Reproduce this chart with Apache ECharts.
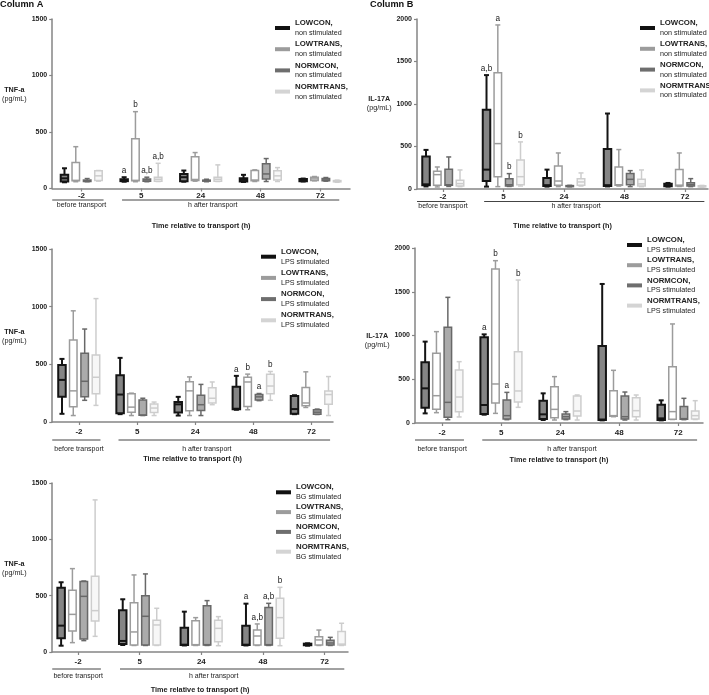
<!DOCTYPE html>
<html><head><meta charset="utf-8">
<script src="https://cdn.jsdelivr.net/npm/echarts@6/dist/echarts.min.js"></script>
<style>html,body{margin:0;padding:0;background:#fff}#c{width:709px;height:695px}</style>
</head><body><div id="c"></div>
<script>
// ---------- DATA ----------
const timeLabels = ['-2', '5', '24', '48', '72'];
const groupNames = ['LOWCON', 'LOWTRANS', 'NORMCON', 'NORMTRANS'];
// each box: [min, q1, median, q3, max] for time points -2, 5, 24, 48, 72

// Column A, TNF-a, non stimulated
const A1_LOWCON    = [[55,62,90,121,179],[60,65,72,82,100],[60,65,100,129,159],[58,62,76,91,121],[62,65,75,85,88]];
const A1_LOWTRANS  = [[60,68,72,229,370],[60,68,72,441,680],[65,71,80,282,318],[62,68,75,159,165],[68,71,85,100,106]];
const A1_NORMCON   = [[60,62,68,75,88],[60,65,76,85,100],[60,65,70,74,82],[62,85,129,218,265],[65,68,76,88,97]];
const A1_NORMTRANS = [[65,71,112,156,159],[62,65,82,100,223],[62,65,82,100,209],[62,76,112,156,185],[55,59,65,70,74]];
const A1_letters = ['a', 'b', 'a,b', 'a,b'];
const A1_letterTime = 1;

// Column B, IL-17A, non stimulated
const B1_LOWCON    = [[30,43,55,381,460],[28,94,228,931,1340],[28,35,45,130,228],[30,35,45,472,888],[28,31,45,63,71]];
const B1_LOWTRANS  = [[24,43,169,208,259],[28,145,534,1368,1930],[28,43,94,271,424],[35,43,50,259,464],[30,35,45,228,424]];
const B1_NORMCON   = [[30,43,50,232,377],[30,35,50,122,181],[26,28,33,40,43],[28,51,114,181,216],[28,35,50,75,122]];
const B1_NORMTRANS = [[28,35,63,102,224],[35,51,145,342,554],[35,43,83,122,189],[28,35,60,114,224],[20,25,30,38,42]];
const B1_letters = ['a,b', 'a', 'b', 'b'];
const B1_letterTime = 1;

// Column A, TNF-a, LPS stimulated
const A2_LOWCON    = [[71,218,365,494,547],[68,76,238,406,556],[56,82,153,173,218],[106,110,115,306,400],[68,71,112,226,232]];
const A2_LOWTRANS  = [[56,132,270,711,964],[56,85,129,244,250],[56,97,270,350,391],[106,135,347,388,415],[126,141,165,300,435]];
const A2_NORMCON   = [[188,218,353,597,806],[56,58,60,191,206],[56,100,150,232,326],[185,191,218,238,247],[65,68,85,106,112]];
const A2_NORMTRANS = [[144,244,388,582,1070],[56,82,121,156,173],[150,165,206,297,347],[188,244,312,415,438],[56,153,238,268,394]];
const A2_letters = ['a', 'b', 'a', 'b'];
const A2_letterTime = 3;

// Column B, IL-17A, LPS stimulated
const B2_LOWCON    = [[110,175,396,693,930],[95,103,206,979,1013],[34,46,99,255,339],[30,34,40,880,1589],[30,34,53,210,259]];
const B2_LOWTRANS  = [[118,156,312,796,1044],[110,229,446,1760,1855],[34,61,156,415,530],[72,76,84,370,602],[40,42,130,644,1132]];
const B2_NORMCON   = [[38,65,236,1093,1436],[38,46,84,263,350],[38,46,72,103,130],[34,46,72,309,354],[38,42,50,190,282]];
const B2_NORMTRANS = [[69,130,297,606,701],[179,240,366,815,1634],[34,80,137,309,320],[34,72,141,290,320],[40,46,84,137,255]];
const B2_letters = ['a', 'b', 'a', 'b'];
const B2_letterTime = 1;

// Column A, TNF-a, BG stimulated
const A3_LOWCON    = [[56,121,234,571,619],[62,71,98,370,468],[58,62,65,216,358],[58,62,65,234,429],[56,60,65,74,77]];
const A3_LOWTRANS  = [[83,186,334,548,740],[58,62,178,438,684],[58,62,65,278,305],[58,62,142,195,249],[58,62,107,136,195]];
const A3_NORMCON   = [[101,115,494,625,630],[58,62,317,500,693],[58,62,65,411,456],[58,62,65,394,432],[58,62,80,104,130]];
const A3_NORMTRANS = [[139,275,367,672,1350],[58,62,240,281,388],[56,92,210,281,314],[56,121,305,477,574],[58,62,70,181,255]];
const A3_letters = ['a', 'a,b', 'a,b', 'b'];
const A3_letterTime = 3;

const yTicksTNF = 500, yMaxTNF = 1500;
const yTicksIL = 500, yMaxIL = 2000;

// ---------- PANELS ----------
const PANELS = [
  {data:[A1_LOWCON,A1_LOWTRANS,A1_NORMCON,A1_NORMTRANS], letters:A1_letters, letterTime:A1_letterTime, stim:'non stimulated', yName:'TNF-a', ymax:yMaxTNF, yint:yTicksTNF},
  {data:[B1_LOWCON,B1_LOWTRANS,B1_NORMCON,B1_NORMTRANS], letters:B1_letters, letterTime:B1_letterTime, stim:'non stimulated', yName:'IL-17A', ymax:yMaxIL, yint:yTicksIL},
  {data:[A2_LOWCON,A2_LOWTRANS,A2_NORMCON,A2_NORMTRANS], letters:A2_letters, letterTime:A2_letterTime, stim:'LPS stimulated', yName:'TNF-a', ymax:yMaxTNF, yint:yTicksTNF},
  {data:[B2_LOWCON,B2_LOWTRANS,B2_NORMCON,B2_NORMTRANS], letters:B2_letters, letterTime:B2_letterTime, stim:'LPS stimulated', yName:'IL-17A', ymax:yMaxIL, yint:yTicksIL},
  {data:[A3_LOWCON,A3_LOWTRANS,A3_NORMCON,A3_NORMTRANS], letters:A3_letters, letterTime:A3_letterTime, stim:'BG stimulated', yName:'TNF-a', ymax:yMaxTNF, yint:yTicksTNF}
];

// layout (pixels)
const LAYOUT = [
  {left:48.5, width:301.5, top:19,  height:169.5, xmin:-0.49, xmax:4.50, lblM:3.5, lineOff:11.5, subOff:16.5, nameGap:37.5, yNameGap:28.5, yNamePad:[0,0,18,0], lgLeft:275, lgTop:19,  lgGap:3.7},
  {left:417,  width:291,   top:19,  height:170,   xmin:-0.43, xmax:4.38, lblM:3.5, lineOff:12.5, subOff:17.5, nameGap:36.5, yNameGap:36,   yNamePad:[0,0,0,0],  lgLeft:640, lgTop:19,  lgGap:3.3},
  {left:48,   width:285,   top:249, height:173,   xmin:-0.46, xmax:4.37, lblM:6,   lineOff:18,   subOff:27,   nameGap:37,   yNameGap:34.5, yNamePad:[3,0,0,0],  lgLeft:261, lgTop:247.7, lgGap:3.7},
  {left:415,  width:288,   top:248, height:175,   xmin:-0.46, xmax:4.42, lblM:5.5, lineOff:17,   subOff:26,   nameGap:37,   yNameGap:34,   yNamePad:[11,0,0,0], lgLeft:627, lgTop:236, lgGap:2.7},
  {left:48,   width:300,   top:483, height:169,   xmin:-0.42, xmax:4.38, lblM:6,   lineOff:17,   subOff:24,   nameGap:38,   yNameGap:36.5, yNamePad:[3,0,0,0],  lgLeft:276, lgTop:483.3, lgGap:2.3}
];

const FONT = '"Liberation Sans", Arial, Helvetica, sans-serif';
const STYLES = [
  {stroke:'#141414', fill:'#858585', lw:2,   legend:'#111111'},
  {stroke:'#9c9c9c', fill:'#ffffff', lw:1.5, legend:'#9c9c9c'},
  {stroke:'#686868', fill:'#ababab', lw:1.5, legend:'#6e6e6e'},
  {stroke:'#cdcdcd', fill:'#f7f7f7', lw:1.5, legend:'#d4d4d4'}
];
const OFFSETS = [-17, -5.7, 5.7, 17];
const BOX_W = 7.5, CAP_W = 5;
const AXIS_COLOR = '#858585';

function makeRender(si, letters, letterTime) {
  const s = STYLES[si];
  return function (params, api) {
    const t = api.value(0);
    const cx = api.coord([t, 0])[0] + OFFSETS[si];
    const py = k => api.coord([t, api.value(k)])[1];
    const yMin = py(1), yQ1 = py(2), yMed = py(3), yQ3 = py(4), yMax = py(5);
    const hw = BOX_W / 2, cw = CAP_W / 2;
    const ls = {stroke: s.stroke, lineWidth: s.lw, fill: null};
    const ch = [
      {type:'line', shape:{x1:cx, y1:yQ3, x2:cx, y2:yMax}, style:ls},
      {type:'line', shape:{x1:cx, y1:yQ1, x2:cx, y2:yMin}, style:ls},
      {type:'line', shape:{x1:cx-cw, y1:yMax, x2:cx+cw, y2:yMax}, style:ls},
      {type:'line', shape:{x1:cx-cw, y1:yMin, x2:cx+cw, y2:yMin}, style:ls},
      {type:'rect', shape:{x:cx-hw, y:yQ3, width:2*hw, height:Math.max(yQ1-yQ3, 0.5)}, style:{fill:s.fill, stroke:s.stroke, lineWidth:s.lw}},
      {type:'line', shape:{x1:cx-hw, y1:yMed, x2:cx+hw, y2:yMed}, style:ls}
    ];
    if (t === letterTime && letters[si]) {
      ch.push({type:'text', style:{text:letters[si], x:cx, y:yMax-2.5, align:'center', verticalAlign:'bottom',
        fontSize:8.2, fontFamily:FONT, fill:'#222'}});
    }
    return {type:'group', children:ch};
  };
}

const grid = [], xAxis = [], yAxis = [], series = [], legend = [];
PANELS.forEach((p, i) => {
  const L = LAYOUT[i];
  grid.push({left:L.left, top:L.top, width:L.width, height:L.height, containLabel:false});
  xAxis.push({
    type:'value', gridIndex:i, min:L.xmin, max:L.xmax,
    axisLine:{show:true, onZero:false, lineStyle:{color:AXIS_COLOR, width:1.5}},
    axisTick:{show:true, customValues:[0,1,2,3,4], length:3, lineStyle:{color:AXIS_COLOR, width:1.2}},
    axisLabel:{customValues:[0,1,2,3,4], formatter:v => timeLabels[Math.round(v)], margin:L.lblM,
      fontSize:8, fontWeight:'bold', color:'#222', fontFamily:FONT},
    splitLine:{show:false},
    name:'Time relative to transport (h)', nameLocation:'middle', nameGap:L.nameGap,
    nameTextStyle:{fontSize:7.3, fontWeight:'bold', color:'#222', fontFamily:FONT, verticalAlign:'middle'}
  });
  yAxis.push({
    type:'value', gridIndex:i, min:0, max:p.ymax, interval:p.yint,
    axisLine:{show:true, onZero:false, lineStyle:{color:AXIS_COLOR, width:1.5}},
    axisTick:{show:true, length:3, lineStyle:{color:AXIS_COLOR, width:1.2}},
    axisLabel:{margin:5, fontSize:7, fontWeight:'bold', color:'#222', fontFamily:FONT, formatter:v => String(v)},
    splitLine:{show:false},
    name:'{b|' + p.yName + '}\n{n|(pg/mL)}', nameLocation:'middle', nameRotate:0, nameGap:L.yNameGap,
    nameTextStyle:{align:'center', verticalAlign:'middle', padding:L.yNamePad, fontFamily:FONT,
      rich:{b:{fontSize:7.2, fontWeight:'bold', color:'#222', lineHeight:9, fontFamily:FONT, align:'center'},
            n:{fontSize:7.2, color:'#222', lineHeight:9, fontFamily:FONT, align:'center'}}}
  });
  const names = [];
  p.data.forEach((arr, si) => {
    const name = groupNames[si] + ', ' + p.stim;
    names.push({name:name, icon:'rect', itemStyle:{color:STYLES[si].legend}});
    series.push({
      type:'custom', name:name, xAxisIndex:i, yAxisIndex:i,
      data:arr.map((b, t) => [t, b[0], b[1], b[2], b[3], b[4]]),
      encode:{x:0, y:[1,2,3,4,5]},
      renderItem:makeRender(si, p.letters, p.letterTime),
      clip:false, silent:true,
      itemStyle:{color:STYLES[si].legend}
    });
  });
  legend.push({
    orient:'vertical', left:L.lgLeft, top:L.lgTop, padding:0, itemGap:L.lgGap,
    itemWidth:15, itemHeight:4, selectedMode:false, data:names,
    formatter:function (n) { const k = n.indexOf(', '); return '{b|' + n.slice(0, k) + ',}\n{n|' + n.slice(k + 2) + '}'; },
    textStyle:{fontFamily:FONT, rich:{
      b:{fontSize:7.8, fontWeight:'bold', color:'#222', lineHeight:10, fontFamily:FONT},
      n:{fontSize:7.2, color:'#222', lineHeight:10, fontFamily:FONT}}}
  });
});

const chart = echarts.init(document.getElementById('c'), null, {renderer:'canvas'});
chart.setOption({
  animation:false,
  backgroundColor:'#fff',
  title:[
    {text:'Column A', left:0, top:0, padding:0, textStyle:{fontSize:9.2, fontWeight:'bold', color:'#111', fontFamily:FONT}},
    {text:'Column B', left:370, top:0, padding:0, textStyle:{fontSize:9.2, fontWeight:'bold', color:'#111', fontFamily:FONT}}
  ],
  grid:grid, xAxis:xAxis, yAxis:yAxis, legend:legend, series:series
});

// transport period brackets under each x axis, positioned from the axes
const graphics = [];
PANELS.forEach((p, i) => {
  const L = LAYOUT[i];
  const px = v => chart.convertToPixel({gridIndex:i}, [v, 0]);
  const y0 = px(0)[1];
  const xStart = px(L.xmin)[0];
  const lines = [[xStart, px(0.37)[0]], [px(0.68)[0], px(4.32)[0]]];
  lines.forEach(([a, b]) => graphics.push({type:'line', silent:true,
    shape:{x1:a, y1:y0 + L.lineOff, x2:b, y2:y0 + L.lineOff}, style:{stroke:'#444', lineWidth:1}}));
  graphics.push({type:'text', silent:true, style:{text:'before transport', x:px(0)[0], y:y0 + L.subOff,
    align:'center', verticalAlign:'middle', fontSize:7, fontFamily:FONT, fill:'#222'}});
  graphics.push({type:'text', silent:true, style:{text:'h after transport', x:px(2.2)[0], y:y0 + L.subOff,
    align:'center', verticalAlign:'middle', fontSize:7, fontFamily:FONT, fill:'#222'}});
});
chart.setOption({graphic:graphics});
</script>
</body></html>
